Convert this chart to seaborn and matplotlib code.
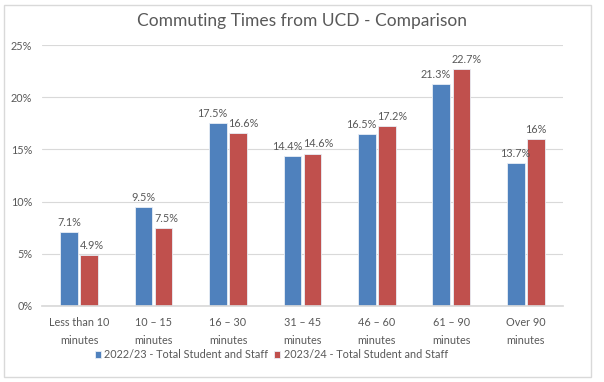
import numpy as np
import pandas as pd
import matplotlib
matplotlib.use("Agg")
import matplotlib.pyplot as plt
import seaborn as sns
from matplotlib.patches import Rectangle

categories = ["Less than 10\nminutes", "10 – 15\nminutes", "16 – 30\nminutes", "31 – 45\nminutes",
              "46 – 60\nminutes", "61 – 90\nminutes", "Over 90\nminutes"]
series = ["2022/23 - Total Student and Staff", "2023/24 - Total Student and Staff"]
values_2223 = [7.1, 9.5, 17.5, 14.4, 16.5, 21.3, 13.7]
values_2324 = [4.9, 7.5, 16.6, 14.6, 17.2, 22.7, 16.0]
y_ticks = [0, 5, 10, 15, 20, 25]

BLUE = "#4F81BD"
RED = "#C0504D"
TEXT = "#595959"

sns.set_theme(style="white")
plt.rcParams["font.family"] = ["Lato", "DejaVu Sans"]

df = pd.DataFrame({
    "category": categories * 2,
    "series": [series[0]] * len(categories) + [series[1]] * len(categories),
    "value": values_2223 + values_2324,
})

fig = plt.figure(figsize=(6.04, 3.82), dpi=100)
fig.patch.set_facecolor("white")
ax = fig.add_axes([0.0695, 0.199, 0.8625, 0.683])

sns.barplot(data=df, x="category", y="value", hue="series", order=categories,
            hue_order=series, palette=[BLUE, RED], saturation=1, width=0.54, gap=0.12,
            edgecolor="#e8eef6", linewidth=0.6, ax=ax, legend=True)

# data labels; when the two bars of a group are close in height, push the
# labels apart (blue to the left, red to the right) like Excel does
label_sets = []
for cont in ax.containers:
    labels = [f"{v:g}%" for v in cont.datavalues]
    label_sets.append(ax.bar_label(cont, labels=labels, padding=3, fontsize=7.8, color=TEXT))

for i in range(len(categories)):
    diff = abs(values_2223[i] - values_2324[i])
    b_bar, r_bar = ax.containers[0][i], ax.containers[1][i]
    b_txt, r_txt = label_sets[0][i], label_sets[1][i]
    if diff < 1.5:
        b_txt.xy = (b_bar.get_x() + b_bar.get_width() * 1.05, b_bar.get_height())
        b_txt.set_ha("right")
    if diff < 2.3:
        r_txt.xy = (r_bar.get_x() - r_bar.get_width() * 0.05, r_bar.get_height())
        r_txt.set_ha("left")

ax.set_ylim(0, 25)
ax.set_yticks(y_ticks)
ax.set_yticklabels([f"{t}%" for t in y_ticks])
ax.set_xlim(-0.5, len(categories) - 0.5)
ax.yaxis.grid(True, color="#D9D9D9", linewidth=0.8)
ax.set_axisbelow(True)
for side in ["top", "right", "left"]:
    ax.spines[side].set_visible(False)
ax.spines["bottom"].set_color("#D9D9D9")
ax.tick_params(axis="both", length=0, colors=TEXT, labelsize=7.8)
ax.tick_params(axis="y", pad=7)
ax.tick_params(axis="x", pad=8)
for t in ax.get_xticklabels():
    t.set_linespacing(1.75)
ax.set_xlabel("")
ax.set_ylabel("")

ax.legend(loc="upper center", bbox_to_anchor=(0.44, -0.145), ncol=2, frameon=False,
          fontsize=7.8, handlelength=0.6, handleheight=0.6, handletextpad=0.3,
          columnspacing=0.5, labelcolor=TEXT, borderpad=0)

fig.text(0.5, 0.945, "Commuting Times from UCD - Comparison", ha="center", va="center",
         fontsize=12.5, color=TEXT)

fig.patches.append(Rectangle((0.006, 0.012), 0.972, 0.976, transform=fig.transFigure,
                             fill=False, edgecolor="#D9D9D9", linewidth=1))

fig.savefig("out.png", dpi=100, facecolor="white")
